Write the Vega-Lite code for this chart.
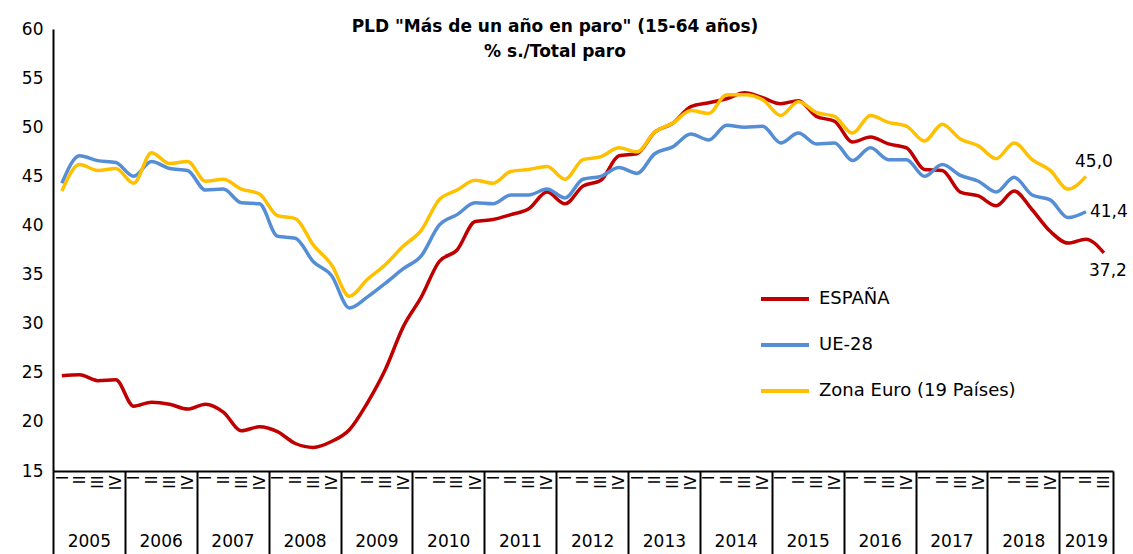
{
  "$schema": "https://vega.github.io/schema/vega-lite/v6.json",
  "width": 1060,
  "height": 442,
  "autosize": {"type": "none"},
  "padding": {"left": 53, "top": 29, "right": 20, "bottom": 83},
  "background": "white",
  "config": {
    "font": "DejaVu Sans",
    "view": {"stroke": null},
    "locale": {"number": {"decimal": ",", "thousands": ".", "grouping": [3], "currency": ["", " €"]}},
    "axis": {"labelColor": "black", "labelFont": "DejaVu Sans"}
  },
  "title": {
    "text": ["PLD \"Más de un año en paro\" (15-64 años)", "% s./Total paro"],
    "fontSize": 17,
    "fontWeight": "bold",
    "font": "DejaVu Sans",
    "color": "black",
    "anchor": "middle",
    "offset": -41,
    "dx": -28,
    "lineHeight": 25
  },
  "data": {
    "format": {"parse": {"trimestre": "utc:'%Y-%m-%d'"}},
    "values": [
      {"trimestre": "2005-01-01", "ESPAÑA": 24.7, "UE-28": 44.3, "Zona Euro (19 Países)": 43.5},
      {"trimestre": "2005-04-01", "ESPAÑA": 24.8, "UE-28": 47.1, "Zona Euro (19 Países)": 46.2},
      {"trimestre": "2005-07-01", "ESPAÑA": 24.2, "UE-28": 46.6, "Zona Euro (19 Países)": 45.6},
      {"trimestre": "2005-10-01", "ESPAÑA": 24.3, "UE-28": 46.4, "Zona Euro (19 Países)": 45.8},
      {"trimestre": "2006-01-01", "ESPAÑA": 21.6, "UE-28": 45.0, "Zona Euro (19 Países)": 44.3},
      {"trimestre": "2006-04-01", "ESPAÑA": 22.0, "UE-28": 46.5, "Zona Euro (19 Países)": 47.4},
      {"trimestre": "2006-07-01", "ESPAÑA": 21.8, "UE-28": 45.8, "Zona Euro (19 Países)": 46.3},
      {"trimestre": "2006-10-01", "ESPAÑA": 21.3, "UE-28": 45.6, "Zona Euro (19 Países)": 46.5},
      {"trimestre": "2007-01-01", "ESPAÑA": 21.8, "UE-28": 43.6, "Zona Euro (19 Países)": 44.5},
      {"trimestre": "2007-04-01", "ESPAÑA": 21.0, "UE-28": 43.7, "Zona Euro (19 Países)": 44.7},
      {"trimestre": "2007-07-01", "ESPAÑA": 19.1, "UE-28": 42.3, "Zona Euro (19 Países)": 43.7},
      {"trimestre": "2007-10-01", "ESPAÑA": 19.5, "UE-28": 42.2, "Zona Euro (19 Países)": 43.2},
      {"trimestre": "2008-01-01", "ESPAÑA": 19.0, "UE-28": 38.9, "Zona Euro (19 Países)": 41.0},
      {"trimestre": "2008-04-01", "ESPAÑA": 17.8, "UE-28": 38.7, "Zona Euro (19 Países)": 40.7},
      {"trimestre": "2008-07-01", "ESPAÑA": 17.4, "UE-28": 36.3, "Zona Euro (19 Países)": 38.0},
      {"trimestre": "2008-10-01", "ESPAÑA": 18.0, "UE-28": 34.9, "Zona Euro (19 Países)": 36.0},
      {"trimestre": "2009-01-01", "ESPAÑA": 19.2, "UE-28": 31.6, "Zona Euro (19 Países)": 32.8},
      {"trimestre": "2009-04-01", "ESPAÑA": 21.9, "UE-28": 32.7, "Zona Euro (19 Países)": 34.5},
      {"trimestre": "2009-07-01", "ESPAÑA": 25.3, "UE-28": 34.1, "Zona Euro (19 Países)": 36.0},
      {"trimestre": "2009-10-01", "ESPAÑA": 29.7, "UE-28": 35.6, "Zona Euro (19 Países)": 37.9},
      {"trimestre": "2010-01-01", "ESPAÑA": 32.7, "UE-28": 36.9, "Zona Euro (19 Países)": 39.5},
      {"trimestre": "2010-04-01", "ESPAÑA": 36.3, "UE-28": 40.0, "Zona Euro (19 Países)": 42.6},
      {"trimestre": "2010-07-01", "ESPAÑA": 37.5, "UE-28": 41.1, "Zona Euro (19 Países)": 43.6},
      {"trimestre": "2010-10-01", "ESPAÑA": 40.4, "UE-28": 42.3, "Zona Euro (19 Países)": 44.6},
      {"trimestre": "2011-01-01", "ESPAÑA": 40.6, "UE-28": 42.2, "Zona Euro (19 Países)": 44.3},
      {"trimestre": "2011-04-01", "ESPAÑA": 41.1, "UE-28": 43.1, "Zona Euro (19 Países)": 45.5},
      {"trimestre": "2011-07-01", "ESPAÑA": 41.7, "UE-28": 43.1, "Zona Euro (19 Países)": 45.7},
      {"trimestre": "2011-10-01", "ESPAÑA": 43.4, "UE-28": 43.7, "Zona Euro (19 Países)": 46.0},
      {"trimestre": "2012-01-01", "ESPAÑA": 42.2, "UE-28": 42.8, "Zona Euro (19 Países)": 44.7},
      {"trimestre": "2012-04-01", "ESPAÑA": 44.0, "UE-28": 44.7, "Zona Euro (19 Países)": 46.7},
      {"trimestre": "2012-07-01", "ESPAÑA": 44.6, "UE-28": 45.0, "Zona Euro (19 Países)": 47.0},
      {"trimestre": "2012-10-01", "ESPAÑA": 47.1, "UE-28": 45.9, "Zona Euro (19 Países)": 47.9},
      {"trimestre": "2013-01-01", "ESPAÑA": 47.3, "UE-28": 45.3, "Zona Euro (19 Países)": 47.5},
      {"trimestre": "2013-04-01", "ESPAÑA": 49.5, "UE-28": 47.3, "Zona Euro (19 Países)": 49.5},
      {"trimestre": "2013-07-01", "ESPAÑA": 50.4, "UE-28": 48.0, "Zona Euro (19 Países)": 50.4},
      {"trimestre": "2013-10-01", "ESPAÑA": 52.1, "UE-28": 49.3, "Zona Euro (19 Países)": 51.7},
      {"trimestre": "2014-01-01", "ESPAÑA": 52.5, "UE-28": 48.7, "Zona Euro (19 Países)": 51.4},
      {"trimestre": "2014-04-01", "ESPAÑA": 52.9, "UE-28": 50.2, "Zona Euro (19 Países)": 53.3},
      {"trimestre": "2014-07-01", "ESPAÑA": 53.5, "UE-28": 50.0, "Zona Euro (19 Países)": 53.3},
      {"trimestre": "2014-10-01", "ESPAÑA": 53.0, "UE-28": 50.1, "Zona Euro (19 Países)": 52.8},
      {"trimestre": "2015-01-01", "ESPAÑA": 52.4, "UE-28": 48.4, "Zona Euro (19 Países)": 51.2},
      {"trimestre": "2015-04-01", "ESPAÑA": 52.7, "UE-28": 49.4, "Zona Euro (19 Países)": 52.6},
      {"trimestre": "2015-07-01", "ESPAÑA": 51.1, "UE-28": 48.3, "Zona Euro (19 Países)": 51.5},
      {"trimestre": "2015-10-01", "ESPAÑA": 50.6, "UE-28": 48.4, "Zona Euro (19 Países)": 51.1},
      {"trimestre": "2016-01-01", "ESPAÑA": 48.5, "UE-28": 46.6, "Zona Euro (19 Países)": 49.4},
      {"trimestre": "2016-04-01", "ESPAÑA": 49.0, "UE-28": 47.9, "Zona Euro (19 Países)": 51.2},
      {"trimestre": "2016-07-01", "ESPAÑA": 48.3, "UE-28": 46.7, "Zona Euro (19 Países)": 50.5},
      {"trimestre": "2016-10-01", "ESPAÑA": 47.9, "UE-28": 46.7, "Zona Euro (19 Países)": 50.1},
      {"trimestre": "2017-01-01", "ESPAÑA": 45.7, "UE-28": 45.0, "Zona Euro (19 Países)": 48.6},
      {"trimestre": "2017-04-01", "ESPAÑA": 45.6, "UE-28": 46.2, "Zona Euro (19 Países)": 50.3},
      {"trimestre": "2017-07-01", "ESPAÑA": 43.4, "UE-28": 45.1, "Zona Euro (19 Países)": 48.8},
      {"trimestre": "2017-10-01", "ESPAÑA": 43.0, "UE-28": 44.5, "Zona Euro (19 Países)": 48.1},
      {"trimestre": "2018-01-01", "ESPAÑA": 42.0, "UE-28": 43.4, "Zona Euro (19 Países)": 46.8},
      {"trimestre": "2018-04-01", "ESPAÑA": 43.5, "UE-28": 44.9, "Zona Euro (19 Países)": 48.4},
      {"trimestre": "2018-07-01", "ESPAÑA": 41.6, "UE-28": 43.1, "Zona Euro (19 Países)": 46.7},
      {"trimestre": "2018-10-01", "ESPAÑA": 39.4, "UE-28": 42.6, "Zona Euro (19 Países)": 45.6},
      {"trimestre": "2019-01-01", "ESPAÑA": 38.2, "UE-28": 40.8, "Zona Euro (19 Países)": 43.7},
      {"trimestre": "2019-04-01", "ESPAÑA": 38.6, "UE-28": 41.4, "Zona Euro (19 Países)": 45.0},
      {"trimestre": "2019-07-01", "ESPAÑA": 37.2}
    ]
  },
  "transform": [
    {"fold": ["ESPAÑA", "UE-28", "Zona Euro (19 Países)"], "as": ["serie", "valor"]},
    {"filter": "isValid(datum.valor)"}
  ],
  "layer": [
    {
      "mark": {"type": "line", "strokeWidth": 3.5, "interpolate": "monotone"},
      "encoding": {
        "x": {
          "field": "trimestre", "type": "temporal", "timeUnit": "utcyearquarter", "bandPosition": 0.5,
          "scale": {"domain": [{"year": 2005, "month": 1, "date": 1, "utc": true}, {"year": 2019, "month": 10, "date": 1, "utc": true}], "nice": false},
          "axis": {
            "orient": "bottom",
            "title": null, "grid": false, "ticks": false,
            "domain": true, "domainColor": "black", "domainWidth": 2,
            "tickCount": {"interval": "month", "step": 3},
            "labelExpr": "utcmonth(datum.value) == 0 ? 'I' : utcmonth(datum.value) == 3 ? 'II' : utcmonth(datum.value) == 6 ? 'III' : (utcmonth(datum.value) == 9 && utcyear(datum.value) < 2019) ? 'IV' : ''",
            "labelAngle": 270, "labelOffset": 9, "labelFontSize": 15, "labelPadding": 4,
            "labelOverlap": false, "labelFlush": false, "labelBound": false
          }
        },
        "y": {
          "field": "valor", "type": "quantitative",
          "scale": {"domain": [15, 60], "nice": false, "zero": false},
          "axis": {
            "title": null, "grid": false, "ticks": false,
            "values": [15, 20, 25, 30, 35, 40, 45, 50, 55, 60],
            "domainColor": "black", "domainWidth": 2,
            "labelFontSize": 17, "labelPadding": 10
          }
        },
        "color": {
          "field": "serie", "type": "nominal",
          "scale": {"domain": ["ESPAÑA", "UE-28", "Zona Euro (19 Países)"], "range": ["#C00000", "#558ED5", "#FFC000"]},
          "legend": {
            "orient": "none", "legendX": 706, "legendY": 244, "title": null,
            "symbolType": "stroke", "symbolSize": 2304, "symbolStrokeWidth": 4,
            "labelFontSize": 18, "labelColor": "black", "labelFont": "DejaVu Sans",
            "labelOffset": 8, "labelLimit": 400, "rowPadding": 11
          }
        }
      }
    },
    {
      "mark": {"type": "point", "opacity": 0},
      "encoding": {
        "x": {
          "field": "trimestre", "type": "temporal", "timeUnit": "utcyearquarter", "bandPosition": 0.5,
          "axis": {
            "orient": "bottom",
            "title": null, "grid": false, "domain": false, "labels": false,
            "ticks": true, "tickSize": 83, "tickColor": "black", "tickWidth": 2,
            "values": [
              {"year": 2005, "month": 1, "date": 1, "utc": true},
              {"year": 2006, "month": 1, "date": 1, "utc": true},
              {"year": 2007, "month": 1, "date": 1, "utc": true},
              {"year": 2008, "month": 1, "date": 1, "utc": true},
              {"year": 2009, "month": 1, "date": 1, "utc": true},
              {"year": 2010, "month": 1, "date": 1, "utc": true},
              {"year": 2011, "month": 1, "date": 1, "utc": true},
              {"year": 2012, "month": 1, "date": 1, "utc": true},
              {"year": 2013, "month": 1, "date": 1, "utc": true},
              {"year": 2014, "month": 1, "date": 1, "utc": true},
              {"year": 2015, "month": 1, "date": 1, "utc": true},
              {"year": 2016, "month": 1, "date": 1, "utc": true},
              {"year": 2017, "month": 1, "date": 1, "utc": true},
              {"year": 2018, "month": 1, "date": 1, "utc": true},
              {"year": 2019, "month": 1, "date": 1, "utc": true},
              {"year": 2019, "month": 10, "date": 1, "utc": true}
            ]
          }
        }
      }
    },
    {
      "mark": {"type": "point", "opacity": 0},
      "encoding": {
        "x": {
          "field": "trimestre", "type": "temporal", "timeUnit": "utcyearquarter", "bandPosition": 0.5,
          "axis": {
            "orient": "bottom",
            "title": null, "grid": false, "domain": false, "ticks": false,
            "labelExpr": "utcFormat(datum.value, '%Y')",
            "labelFontSize": 17, "labelPadding": 62, "labelAngle": 0, "labelBaseline": "top",
            "labelOverlap": false, "labelFlush": false, "labelBound": false,
            "values": [
              {"year": 2005, "month": 7, "date": 2, "utc": true},
              {"year": 2006, "month": 7, "date": 2, "utc": true},
              {"year": 2007, "month": 7, "date": 2, "utc": true},
              {"year": 2008, "month": 7, "date": 2, "utc": true},
              {"year": 2009, "month": 7, "date": 2, "utc": true},
              {"year": 2010, "month": 7, "date": 2, "utc": true},
              {"year": 2011, "month": 7, "date": 2, "utc": true},
              {"year": 2012, "month": 7, "date": 2, "utc": true},
              {"year": 2013, "month": 7, "date": 2, "utc": true},
              {"year": 2014, "month": 7, "date": 2, "utc": true},
              {"year": 2015, "month": 7, "date": 2, "utc": true},
              {"year": 2016, "month": 7, "date": 2, "utc": true},
              {"year": 2017, "month": 7, "date": 2, "utc": true},
              {"year": 2018, "month": 7, "date": 2, "utc": true},
              {"year": 2019, "month": 5, "date": 16, "utc": true}
            ]
          }
        }
      }
    },
    {
      "transform": [{"filter": "datum.serie == 'ESPAÑA' && utcyear(datum.trimestre) == 2019 && utcmonth(datum.trimestre) == 6"}],
      "mark": {"type": "text", "align": "center", "baseline": "middle", "dx": 4, "dy": 18, "fontSize": 17, "color": "black"},
      "encoding": {
        "x": {"field": "trimestre", "type": "temporal", "timeUnit": "utcyearquarter", "bandPosition": 0.5, "axis": null},
        "y": {"field": "valor", "type": "quantitative"},
        "text": {"field": "valor", "type": "quantitative", "format": ".1f"}
      }
    },
    {
      "transform": [{"filter": "datum.serie == 'UE-28' && utcyear(datum.trimestre) == 2019 && utcmonth(datum.trimestre) == 3"}],
      "mark": {"type": "text", "align": "left", "baseline": "middle", "dx": 4, "dy": 0, "fontSize": 17, "color": "black"},
      "encoding": {
        "x": {"field": "trimestre", "type": "temporal", "timeUnit": "utcyearquarter", "bandPosition": 0.5, "axis": null},
        "y": {"field": "valor", "type": "quantitative"},
        "text": {"field": "valor", "type": "quantitative", "format": ".1f"}
      }
    },
    {
      "transform": [{"filter": "datum.serie == 'Zona Euro (19 Países)' && utcyear(datum.trimestre) == 2019 && utcmonth(datum.trimestre) == 3"}],
      "mark": {"type": "text", "align": "center", "baseline": "middle", "dx": 8, "dy": -14, "fontSize": 17, "color": "black"},
      "encoding": {
        "x": {"field": "trimestre", "type": "temporal", "timeUnit": "utcyearquarter", "bandPosition": 0.5, "axis": null},
        "y": {"field": "valor", "type": "quantitative"},
        "text": {"field": "valor", "type": "quantitative", "format": ".1f"}
      }
    }
  ],
  "resolve": {"axis": {"x": "independent"}}
}
